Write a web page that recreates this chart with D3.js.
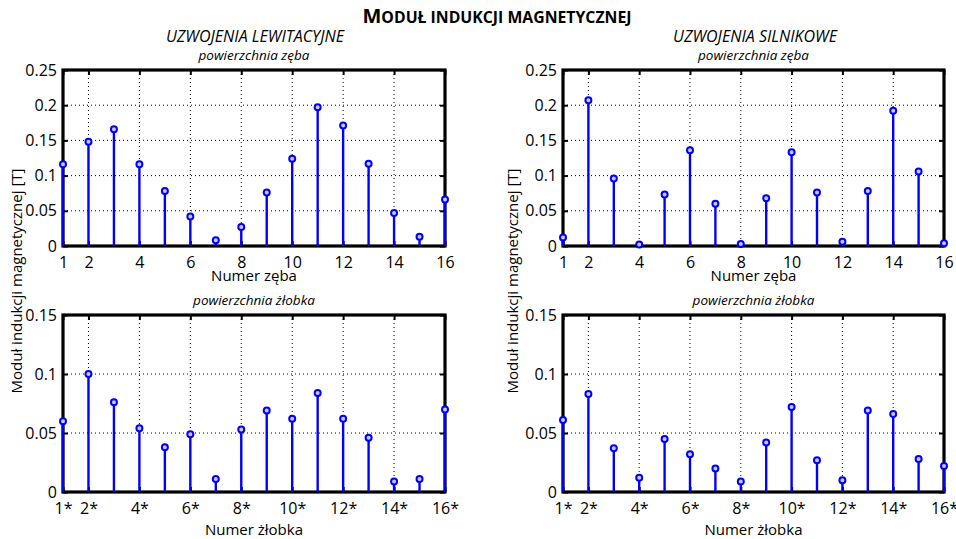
<!DOCTYPE html>
<html>
<head>
<meta charset="utf-8">
<script src="https://cdn.jsdelivr.net/npm/d3@7"></script>
<style>
  body { margin: 0; background: #fff; }
  svg { font-family: "Open Sans", sans-serif; }
</style>
</head>
<body>
<div id="chart"></div>
<script>
// numbers of teeth / slots
const slots = [1, 2, 3, 4, 5, 6, 7, 8, 9, 10, 11, 12, 13, 14, 15, 16];

// induction values [T]
const toothLev = [0.116, 0.148, 0.166, 0.116, 0.078, 0.042, 0.008, 0.027, 0.076, 0.124, 0.197, 0.171, 0.117, 0.047, 0.013, 0.066];
const toothMot = [0.012, 0.207, 0.096, 0.002, 0.073, 0.136, 0.060, 0.003, 0.068, 0.133, 0.076, 0.006, 0.078, 0.192, 0.106, 0.004];
const slotLev = [0.060, 0.100, 0.076, 0.054, 0.038, 0.049, 0.011, 0.053, 0.069, 0.062, 0.084, 0.062, 0.046, 0.009, 0.011, 0.070];
const slotMot = [0.061, 0.083, 0.037, 0.012, 0.045, 0.032, 0.020, 0.009, 0.042, 0.072, 0.027, 0.010, 0.069, 0.066, 0.028, 0.022];

// ticks
const xTicks = [1, 2, 4, 6, 8, 10, 12, 14, 16];
const xLabelsTooth = ["1", "2", "4", "6", "8", "10", "12", "14", "16"];
const xLabelsSlot = ["1*", "2*", "4*", "6*", "8*", "10*", "12*", "14*", "16*"];
const yTicksTooth = [0, 0.05, 0.1, 0.15, 0.2, 0.25];
const yTicksSlot = [0, 0.05, 0.1, 0.15];

const W = 956, H = 539;
const svg = d3.select("#chart").append("svg")
    .attr("width", W)
    .attr("height", H);

//main title, small caps
const title = svg.append("text")
    .attr("x", 497)
    .attr("y", 23)
    .attr("text-anchor", "middle")
    .style("font-weight", "bold");
title.append("tspan").style("font-size", "20px").text("M");
title.append("tspan").style("font-size", "15.8px").text("ODUŁ INDUKCJI MAGNETYCZNEJ");

// panel boxes
const panels = [
    {x0: 63, x1: 445, y0: 70, y1: 246, data: toothLev, yTicks: yTicksTooth, xLabels: xLabelsTooth, xTitle: "Numer zęba", sub: "powierzchnia zęba"},
    {x0: 563, x1: 944, y0: 70, y1: 246, data: toothMot, yTicks: yTicksTooth, xLabels: xLabelsTooth, xTitle: "Numer zęba", sub: "powierzchnia zęba"},
    {x0: 63, x1: 445, y0: 315, y1: 492, data: slotLev, yTicks: yTicksSlot, xLabels: xLabelsSlot, xTitle: "Numer żłobka", sub: "powierzchnia żłobka"},
    {x0: 563, x1: 944, y0: 315, y1: 492, data: slotMot, yTicks: yTicksSlot, xLabels: xLabelsSlot, xTitle: "Numer żłobka", sub: "powierzchnia żłobka"}
];

// column headers
[["UZWOJENIA LEWITACYJNE", 255], ["UZWOJENIA SILNIKOWE", 755]].forEach(h => {
    svg.append("text")
        .attr("x", h[1])
        .attr("y", 42)
        .attr("text-anchor", "middle")
        .style("font-size", "16px")
        .style("font-style", "italic")
        .text(h[0]);
});

// y axis titles, one per column
[17, 513].forEach(x => {
    svg.append("text")
        .attr("transform", "translate(" + x + ",281) rotate(-90)")
        .attr("text-anchor", "middle")
        .attr("dy", "0.35em")
        .style("font-size", "15px")
        .text("Moduł indukcji magnetycznej [T]");
});

panels.forEach(p => {
    const w = p.x1 - p.x0, h = p.y1 - p.y0;
    const g = svg.append("g").attr("transform", "translate(" + p.x0 + "," + p.y0 + ")");

    const x = d3.scaleLinear().domain([1, 16]).range([0, w]);
    const y = d3.scaleLinear().domain([0, d3.max(p.yTicks)]).range([h, 0]);

    // subtitle
    g.append("text")
        .attr("x", w / 2)
        .attr("y", -10)
        .attr("text-anchor", "middle")
        .style("font-size", "13.5px")
        .style("font-style", "italic")
        .text(p.sub);

    // dotted grid
    g.append("g").selectAll("line")
        .data(xTicks.slice(1, -1))
        .enter().append("line")
        .attr("x1", d => x(d)).attr("x2", d => x(d))
        .attr("y1", 0).attr("y2", h)
        .attr("stroke", "#000")
        .attr("stroke-width", 1)
        .attr("stroke-dasharray", "1,3");
    g.append("g").selectAll("line")
        .data(p.yTicks.slice(1, -1))
        .enter().append("line")
        .attr("y1", d => y(d)).attr("y2", d => y(d))
        .attr("x1", 0).attr("x2", w)
        .attr("stroke", "#000")
        .attr("stroke-width", 1)
        .attr("stroke-dasharray", "1,3");

    // axes with inward ticks
    const xAxis = g.append("g")
        .attr("transform", "translate(0," + h + ")")
        .call(d3.axisBottom(x).tickValues(xTicks)
            .tickFormat((d, i) => p.xLabels[i])
            .tickSizeInner(-5).tickSizeOuter(0).tickPadding(11));
    const yAxis = g.append("g")
        .call(d3.axisLeft(y).tickValues(p.yTicks)
            .tickFormat(d => String(d))
            .tickSizeInner(-5).tickSizeOuter(0).tickPadding(6));
    const xTop = g.append("g")
        .call(d3.axisTop(x).tickValues(xTicks).tickFormat("").tickSizeInner(-5).tickSizeOuter(0));
    const yRight = g.append("g")
        .attr("transform", "translate(" + w + ",0)")
        .call(d3.axisRight(y).tickValues(p.yTicks).tickFormat("").tickSizeInner(-5).tickSizeOuter(0));

    [xAxis, yAxis, xTop, yRight].forEach(a => {
        a.select(".domain").remove();
        a.selectAll(".tick line").attr("stroke", "#000").attr("stroke-width", 2);
        a.selectAll("text")
            .style("font-family", "'Open Sans', sans-serif")
            .style("font-size", "16px")
            .attr("fill", "#000");
    });

    // x axis title
    g.append("text")
        .attr("x", w / 2)
        .attr("y", h + (p.y0 < 100 ? 35 : 43))
        .attr("text-anchor", "middle")
        .style("font-size", "15px")
        .text(p.xTitle);

    // frame
    g.append("rect")
        .attr("width", w)
        .attr("height", h)
        .attr("fill", "none")
        .attr("stroke", "#000")
        .attr("stroke-width", 3.2);

    // stems
    g.append("g").selectAll("line")
        .data(p.data)
        .enter().append("line")
        .attr("x1", (d, i) => x(slots[i]))
        .attr("x2", (d, i) => x(slots[i]))
        .attr("y1", y(0))
        .attr("y2", d => y(d))
        .attr("stroke", "#0000ff")
        .attr("stroke-width", 2.4);

    g.append("g").selectAll("circle")
        .data(p.data)
        .enter().append("circle")
        .attr("cx", (d, i) => x(slots[i]))
        .attr("cy", d => y(d))
        .attr("r", 3)
        .attr("fill", "#c8c8ff")
        .attr("stroke", "#0000ff")
        .attr("stroke-width", 2);
});
</script>
</body>
</html>
